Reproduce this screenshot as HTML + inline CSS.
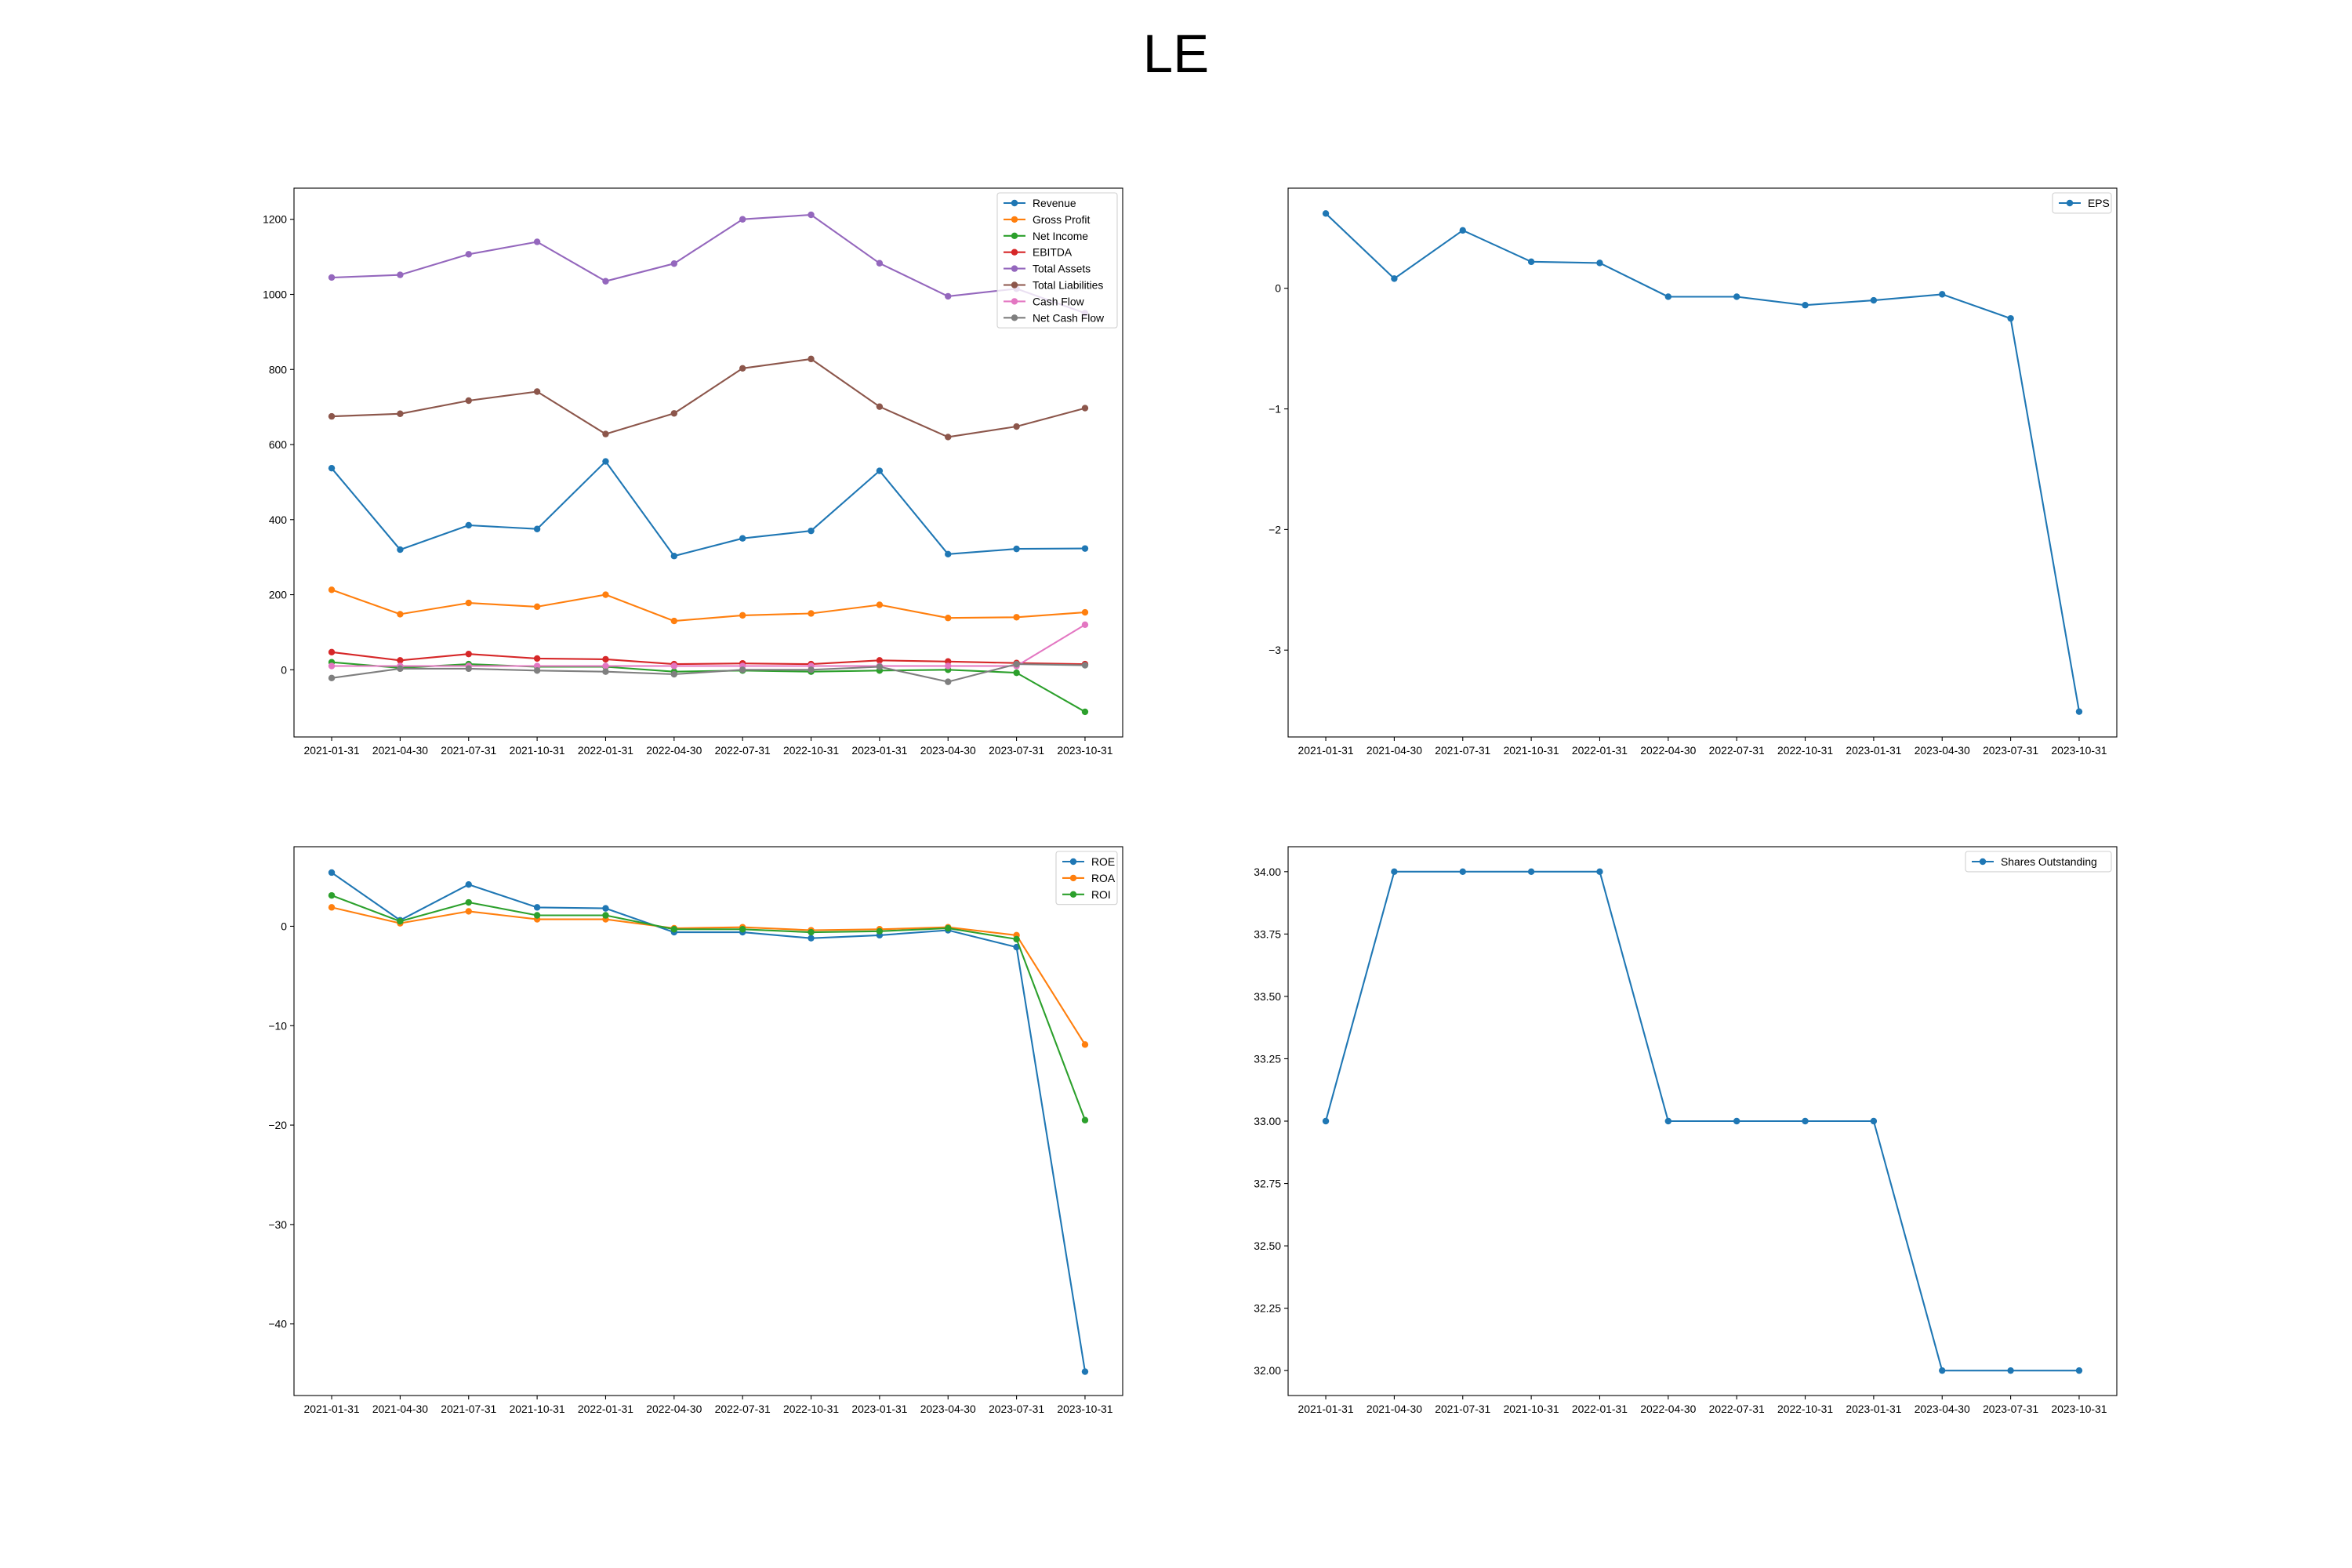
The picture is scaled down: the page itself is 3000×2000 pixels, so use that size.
<!DOCTYPE html>
<html><head><meta charset="utf-8"><style>
html,body{margin:0;padding:0;background:#fff;}
svg{display:block;font-family:"Liberation Sans","DejaVu Sans",sans-serif;}
</style></head><body>
<svg id="fig" width="3000" height="2000" viewBox="0 0 3000 2000" xmlns="http://www.w3.org/2000/svg">
<rect width="3000" height="2000" fill="#fff"/>
<text x="1500" y="92" font-size="69" text-anchor="middle" fill="#000">LE</text>
</svg>
<script>
const dates = ["2021-01-31","2021-04-30","2021-07-31","2021-10-31","2022-01-31","2022-04-30","2022-07-31","2022-10-31","2023-01-31","2023-04-30","2023-07-31","2023-10-31"];
const revenue = [537,320,385,375,555,303,350,370,530,308,322,323];
const grossProfit = [213,148,178,168,200,130,145,150,173,138,140,153];
const netIncome = [20,5,15,8,8,-5,-2,-5,-2,0,-8,-112];
const ebitda = [47,25,42,30,28,15,17,15,25,22,18,15];
const totalAssets = [1045,1052,1107,1140,1035,1082,1200,1212,1083,995,1015,950];
const totalLiabilities = [675,682,717,741,628,683,803,828,701,620,648,697];
const cashFlow = [10,10,10,10,10,10,10,10,10,10,10,120];
const netCashFlow = [-22,3,3,-2,-5,-12,0,0,8,-32,15,12];
const eps = [0.62,0.08,0.48,0.22,0.21,-0.07,-0.07,-0.14,-0.10,-0.05,-0.25,-3.51];
const roe = [5.4,0.6,4.2,1.9,1.8,-0.6,-0.6,-1.2,-0.9,-0.4,-2.1,-44.8];
const roa = [1.9,0.3,1.5,0.7,0.7,-0.2,-0.1,-0.4,-0.3,-0.1,-0.9,-11.9];
const roi = [3.1,0.5,2.4,1.1,1.1,-0.3,-0.3,-0.6,-0.5,-0.2,-1.3,-19.5];
const shares = [33,34,34,34,34,33,33,33,33,32,32,32];
const ticksTL = [0,200,400,600,800,1000,1200];
const ticksEPS = [0,-1,-2,-3];
const ticksRet = [0,-10,-20,-30,-40];
const ticksShares = [32,32.25,32.5,32.75,33,33.25,33.5,33.75,34];

const NS = "http://www.w3.org/2000/svg";
const fig = document.getElementById('fig');
function mk(tag, attrs, parent){const e=document.createElementNS(NS,tag);for(const k in attrs)e.setAttribute(k,attrs[k]);(parent||fig).appendChild(e);return e;}
const C=["#1f77b4","#ff7f0e","#2ca02c","#d62728","#9467bd","#8c564b","#e377c2","#7f7f7f"];

function panel(name, box, ylim, yticks, fmt, series, legW){
  const [x0,y0,w,h]=box;
  const g=mk('g',{});
  
  
  const xs=i=>x0+(i+0.55)/12.1*w;
  const ys=v=>y0+h-(v-ylim[0])/(ylim[1]-ylim[0])*h;
  series.forEach((s,si)=>{
    const pts=s.data.map((v,i)=>xs(i).toFixed(1)+','+ys(v).toFixed(1)).join(' ');
    const pl=mk('polyline',{points:pts,fill:'none',stroke:s.color,'stroke-width':2.1,'stroke-linejoin':'round','stroke-linecap':'square'},g);
    
    
    s.data.forEach((v,i)=>{
      const c=mk('circle',{cx:xs(i),cy:ys(v),r:4.2,fill:s.color},g);
      
      
    });
  });
  const fr=mk('rect',{x:x0,y:y0,width:w,height:h,fill:'none',stroke:'#000','stroke-width':1.1},g);
  
  
  dates.forEach((d,i)=>{
    mk('line',{x1:xs(i),x2:xs(i),y1:y0+h,y2:y0+h+5,stroke:'#000','stroke-width':1.1},g);
    const t=mk('text',{x:xs(i),y:y0+h+22,'font-size':13.9,'text-anchor':'middle'},g);
    t.textContent=d;
    
    
  });
  yticks.forEach(v=>{
    const y=ys(v);
    mk('line',{x1:x0-5,x2:x0,y1:y,y2:y,stroke:'#000','stroke-width':1.1},g);
    const t=mk('text',{x:x0-9,y:y+5,'font-size':13.9,'text-anchor':'end'},g);
    t.textContent=fmt(v);
    
    
  });
  const lh=20.9*series.length+5;
  const lx=x0+w-7-legW, ly=y0+6;
  const lg=mk('g',{},g);
  
  
  mk('rect',{x:lx,y:ly,width:legW,height:lh,rx:3,fill:'#fff','fill-opacity':0.8,stroke:'#d0d0d0','stroke-width':1.1},lg);
  series.forEach((s,i)=>{
    const cy=ly+13+i*20.9;
    const e=mk('g',{},lg);
    
    
    mk('line',{x1:lx+8,x2:lx+36,y1:cy,y2:cy,stroke:s.color,'stroke-width':2.1},e);
    mk('circle',{cx:lx+22,cy:cy,r:4.2,fill:s.color},e);
    const t=mk('text',{x:lx+45,y:cy+5,'font-size':13.9},e);
    t.textContent=s.label;
  });
}
const fInt=v=>v<0?'\u2212'+Math.abs(v):String(v);
panel('financials-chart',[375,240,1057,700],[-179,1283],ticksTL,fInt,[
 {key:'revenue',label:'Revenue',data:revenue,color:C[0]},
 {key:'gross-profit',label:'Gross Profit',data:grossProfit,color:C[1]},
 {key:'net-income',label:'Net Income',data:netIncome,color:C[2]},
 {key:'ebitda',label:'EBITDA',data:ebitda,color:C[3]},
 {key:'total-assets',label:'Total Assets',data:totalAssets,color:C[4]},
 {key:'total-liabilities',label:'Total Liabilities',data:totalLiabilities,color:C[5]},
 {key:'cash-flow',label:'Cash Flow',data:cashFlow,color:C[6]},
 {key:'net-cash-flow',label:'Net Cash Flow',data:netCashFlow,color:C[7]}],153);
panel('eps-chart',[1643,240,1057,700],[-3.72,0.83],ticksEPS,fInt,[
 {key:'eps',label:'EPS',data:eps,color:C[0]}],75);
panel('returns-chart',[375,1080,1057,700],[-47.2,8.0],ticksRet,fInt,[
 {key:'roe',label:'ROE',data:roe,color:C[0]},
 {key:'roa',label:'ROA',data:roa,color:C[1]},
 {key:'roi',label:'ROI',data:roi,color:C[2]}],78);
panel('shares-chart',[1643,1080,1057,700],[31.9,34.1],ticksShares,v=>v.toFixed(2),[
 {key:'shares-outstanding',label:'Shares Outstanding',data:shares,color:C[0]}],186);
</script>
</body></html>
